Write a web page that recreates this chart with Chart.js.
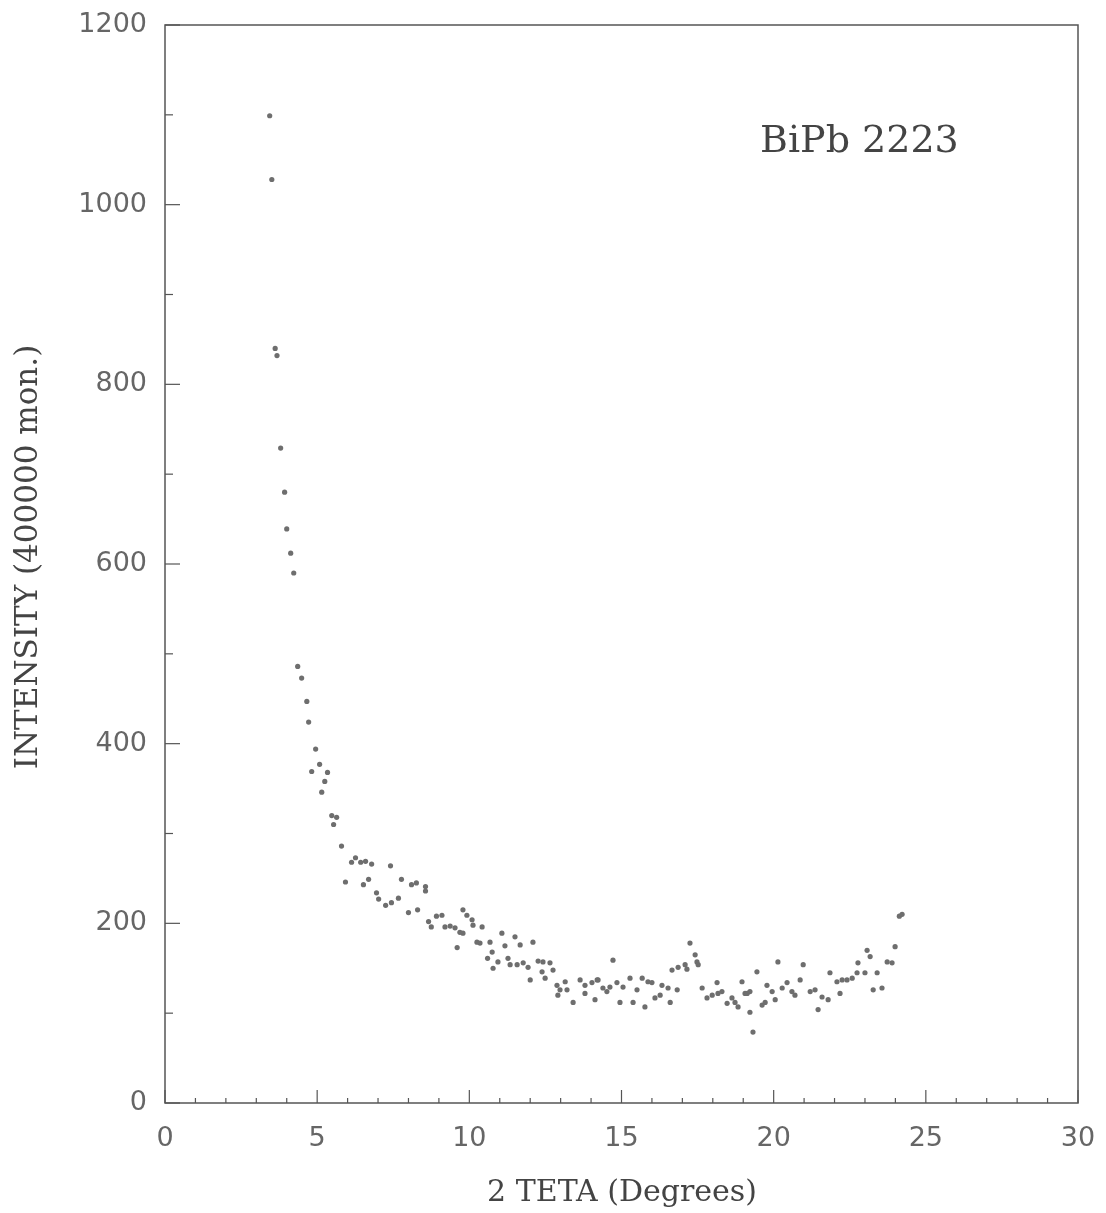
<!DOCTYPE html>
<html>
<head>
<meta charset="utf-8">
<script src="https://cdn.jsdelivr.net/npm/chart.js@4.4.0/dist/chart.umd.min.js"></script>
<style>
html,body{margin:0;padding:0;background:#fff;}
#wrap{width:1106px;height:1213px;position:relative;}
</style>
</head>
<body>
<div id="wrap"><canvas id="c" width="1106" height="1213"></canvas></div>
<script>
// 2 theta (degrees)
const twoTheta = [
3.44,3.51,3.62,3.68,3.80,3.93,4.00,4.13,4.23,
4.36,4.49,4.66,4.72,4.95,5.08,4.82,5.34,5.25,5.15,5.48,5.64,5.54,
5.80,6.26,6.13,6.43,6.59,6.79,7.41,5.93,6.52,6.69,6.95,7.02,7.25,7.44,7.67,7.77,8.10,8.26,8.56,8.56,
8.00,8.30,8.66,8.92,8.75,
9.10,9.79,9.92,10.09,10.12,10.42,9.20,9.37,9.53,9.69,9.79,9.60,10.25,10.35,10.68,11.07,11.50,11.67,11.17,12.09,
10.75,10.60,10.78,10.94,11.27,11.34,11.57,11.77,11.93,12.26,12.42,12.65,12.75,12.39,12.49,12.00,12.88,13.15,12.98,13.21,
12.91,13.41,13.64,13.80,14.03,14.20,13.80,14.13,
14.72,17.25,17.42,17.48,17.52,16.66,16.86,17.09,17.15,14.23,14.39,14.52,14.62,14.85,15.05,15.28,15.51,15.68,15.87,16.00,
16.33,16.53,16.83,14.95,15.38,15.77,16.10,16.27,16.60,17.65,17.81,17.98,18.14,18.17,18.30,18.47,18.63,18.73,18.83,18.96,19.06,
19.13,19.22,19.22,19.32,20.14,19.45,19.78,19.95,19.62,19.72,20.05,20.28,20.44,20.60,20.70,20.87,20.97,21.20,21.36,21.59,
21.79,21.46,21.85,22.18,22.08,22.25,22.41,22.58,22.74,22.77,23.00,23.07,23.17,23.40,23.27,23.56,23.73,23.89,23.99,24.13,24.22
];
// Intensity (per 400000 monitor counts)
const intensity = [
1099,1028,840,832,729,680,639,612,590,
486,473,447,424,394,377,369,368,358,346,320,318,310,
286,273,268,268,269,266,264,246,243,249,234,227,220,223,228,249,243,245,241,236,
212,215,202,208,196,
209,215,209,204,198,196,196,197,195,190,189,173,179,178,179,189,185,176,175,179,
168,161,150,157,161,154,154,156,151,158,157,156,148,146,139,137,131,135,126,126,
120,112,137,131,134,137,122,115,
159,178,165,157,154,148,151,154,149,137,128,124,129,134,129,139,126,139,135,134,
131,128,126,112,112,107,117,120,112,128,117,120,134,122,124,111,117,112,107,135,122,
122,124,101,79,157,146,131,124,109,112,115,128,134,124,120,137,154,124,126,118,
115,104,145,122,135,137,137,139,145,156,145,170,163,145,126,128,157,156,174,208,210
];
const xTickLabels = [0,5,10,15,20,25,30];
const yTickLabels = [0,200,400,600,800,1000,1200];
const sampleLabel = "BiPb 2223";
const xTitle = "2 TETA (Degrees)";
const yTitle = "INTENSITY (400000 mon.)";

const points = twoTheta.map((x,i)=>({x:x, y:intensity[i]}));

const framePlugin = {
  id:'frame',
  afterDraw(chart){
    const ctx = chart.ctx;
    const a = chart.chartArea;
    const xs = chart.scales.x, ys = chart.scales.y;
    ctx.save();
    ctx.strokeStyle = '#555';
    ctx.lineWidth = 1.5;
    ctx.strokeRect(a.left, a.top, a.right-a.left, a.bottom-a.top);
    ctx.lineWidth = 1.2;
    for(let v=0; v<=30; v++){
      const px = xs.getPixelForValue(v);
      const len = (v%5===0)?13:5;
      ctx.beginPath(); ctx.moveTo(px, a.bottom); ctx.lineTo(px, a.bottom-len); ctx.stroke();
    }
    for(let v=0; v<=1200; v+=100){
      const py = ys.getPixelForValue(v);
      const len = (v%200===0)?15:8;
      ctx.beginPath(); ctx.moveTo(a.left, py); ctx.lineTo(a.left+len, py); ctx.stroke();
    }
    ctx.fillStyle = '#444';
    ctx.font = '38px "DejaVu Serif"';
    ctx.textAlign = 'left'; ctx.textBaseline = 'middle';
    ctx.fillText(sampleLabel, 760, 142);
    ctx.font = '30px "DejaVu Serif"';
    ctx.textAlign = 'center';
    ctx.fillText(xTitle, 622, 1193);
    ctx.save();
    ctx.translate(29, 557);
    ctx.rotate(-Math.PI/2);
    ctx.font = '31px "DejaVu Serif"';
    ctx.fillText(yTitle, 0, 0);
    ctx.restore();
    ctx.restore();
  }
};

function zeroPad(s){ s.paddingTop = 0; s.paddingBottom = 0; s.paddingLeft = 0; s.paddingRight = 0; }

new Chart(document.getElementById('c'), {
  type:'scatter',
  data:{datasets:[{
    data: points,
    pointStyle:'circle',
    pointRadius:2.6,
    pointHoverRadius:2.6,
    backgroundColor:'#6e6e6e',
    borderWidth:0
  }]},
  options:{
    responsive:false,
    animation:false,
    devicePixelRatio:1,
    layout:{padding:{left:0, top:25, right:28, bottom:0}},
    plugins:{legend:{display:false}, tooltip:{enabled:false}, title:{display:false}},
    scales:{
      x:{
        type:'linear', min:0, max:30,
        afterFit(s){ s.height = 110; zeroPad(s); },
        afterBuildTicks(s){ s.ticks = xTickLabels.map(v=>({value:v})); },
        grid:{display:false, drawTicks:false},
        border:{display:false},
        ticks:{padding:20, color:'#666', font:{family:'DejaVu Sans', size:27}, maxRotation:0, autoSkip:false, callback:(v)=>String(v)}
      },
      y:{
        type:'linear', min:0, max:1200,
        afterFit(s){ s.width = 165; zeroPad(s); },
        afterBuildTicks(s){ s.ticks = yTickLabels.map(v=>({value:v})); },
        grid:{display:false, drawTicks:false},
        border:{display:false},
        ticks:{padding:18, color:'#666', font:{family:'DejaVu Sans', size:27}, autoSkip:false, callback:(v)=>String(v)}
      }
    }
  },
  plugins:[framePlugin]
});
</script>
</body>
</html>
